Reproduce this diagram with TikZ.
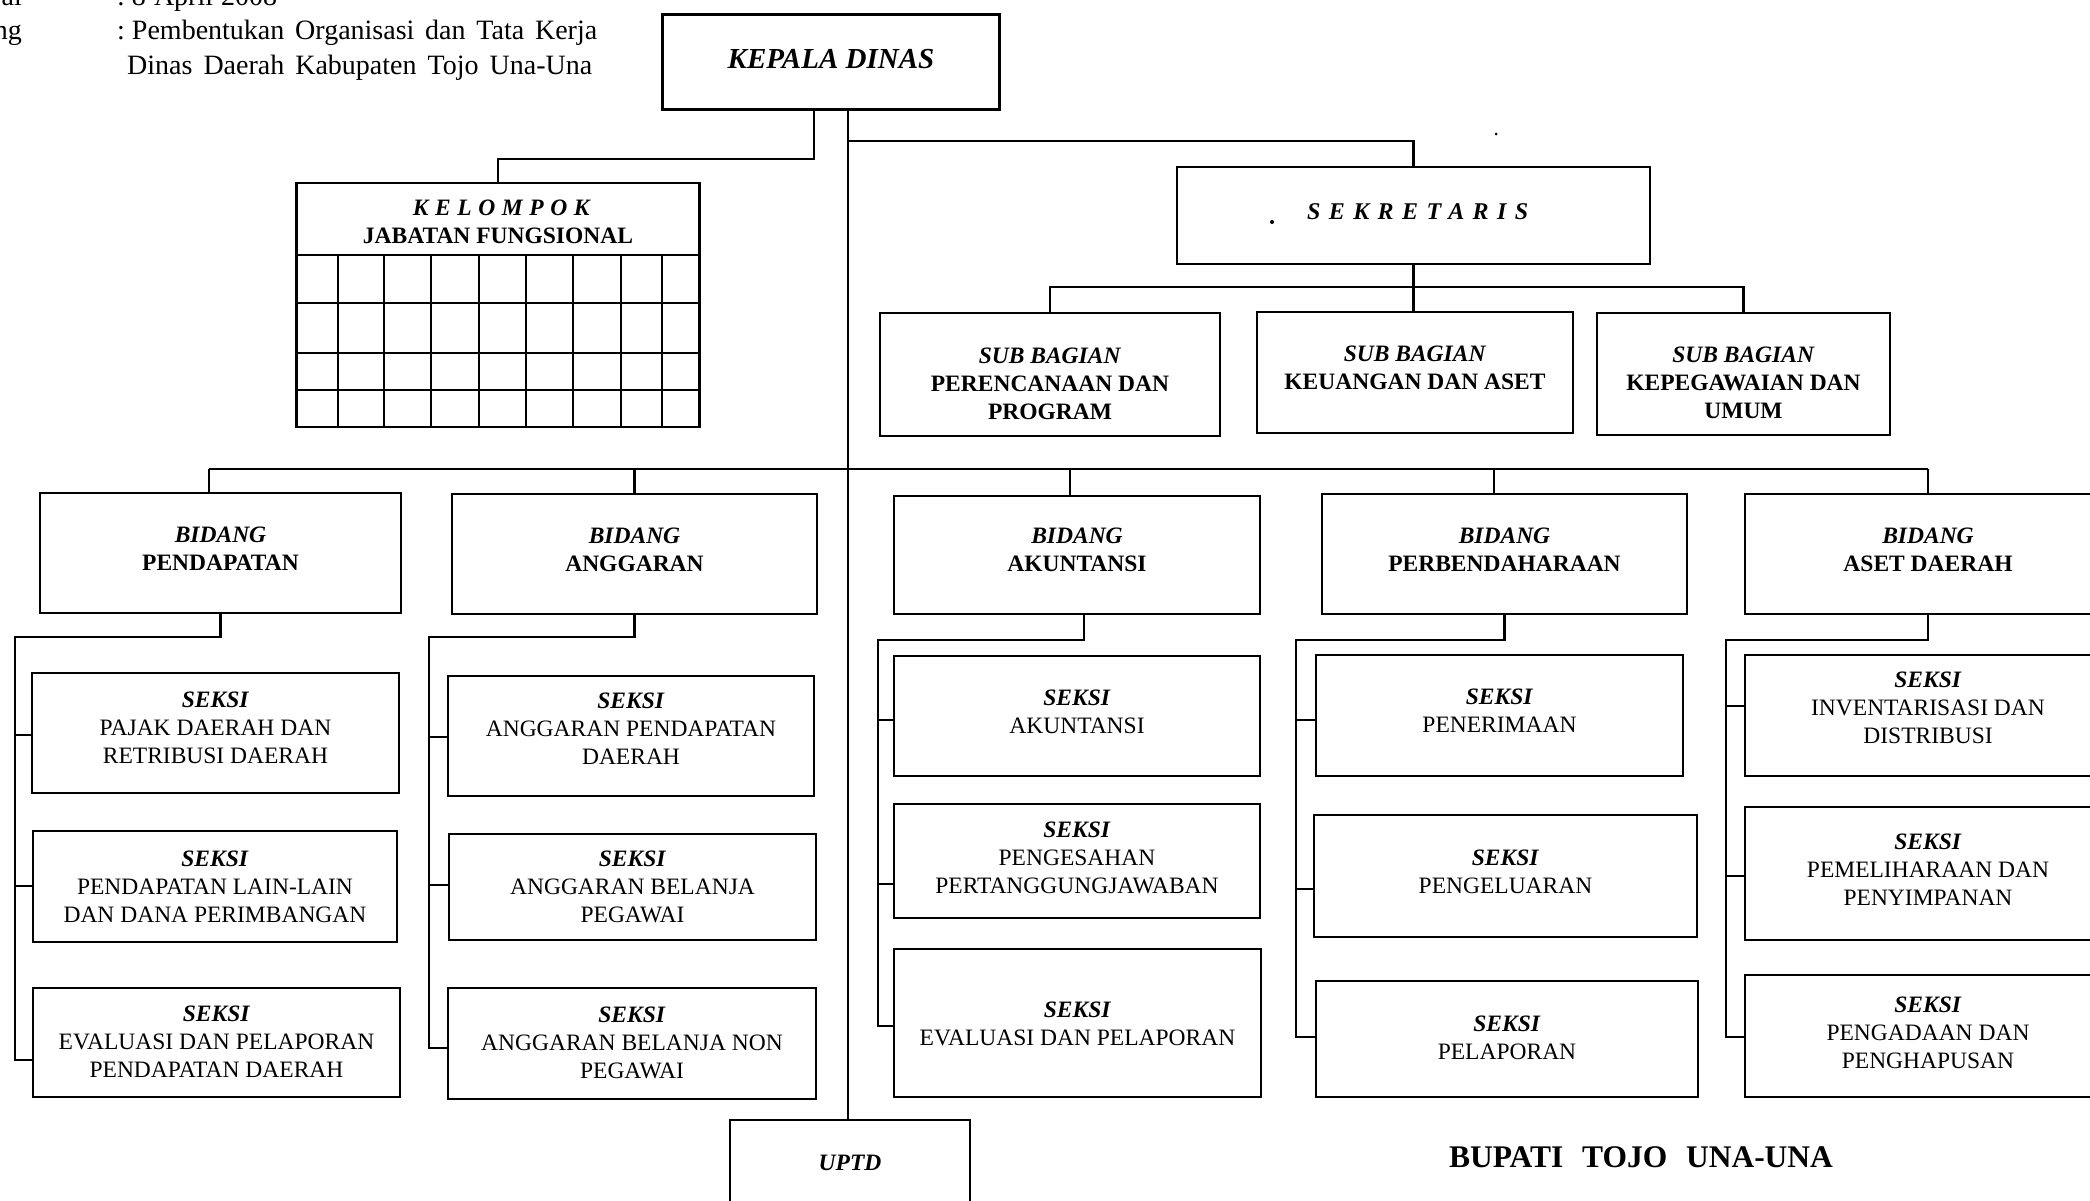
\documentclass[tikz,border=0pt]{standalone}
\usepackage{fontspec}
\setmainfont{Liberation Serif}
\newfontfamily\lsA[LetterSpace=28]{Liberation Serif}
\newfontfamily\lsB[LetterSpace=35]{Liberation Serif}
\usetikzlibrary{calc}
\newcommand{\hdr}[1]{\textbf{\textit{#1}}}
% box with its label: name, centre, width, height, text offset (down), text
\newcommand{\bx}[6]{%
  \node[box,minimum width=#3pt,minimum height=#4pt] (#1) at (#2) {};
  \node[lbl] (#1t) at ([yshift={-(#5)*1pt}]#1.center) {#6};}
\begin{document}
\begin{tikzpicture}[x=1pt,y=-1pt,
  box/.style={draw,line width=2.6pt,inner sep=0pt},
  lbl/.style={inner sep=0pt,align=center,font=\fontsize{23.5}{28}\selectfont},
  conn/.style={line width=2.2pt},
  gridl/.style={line width=2pt},
  txt/.style={inner sep=0pt,font=\fontsize{28}{34}\selectfont}]
\useasboundingbox (0,0) rectangle (2090,1200);
\clip (0,0) rectangle (2090,1200);
\fill[white] (0,0) rectangle (2090,1200);

% header text
\node[txt,anchor=base east] (tgl) at (22,5) {al};
\node[txt,anchor=base west] (tglv) at (117,5) {\hbox to 160pt{:\kern7pt 8 April 2008}};
\node[txt,anchor=base east] (ttg) at (22,39) {ng};
\node[txt,anchor=base west] (ttgv) at (117,39) {\hbox to 480pt{:\kern7pt Pembentukan Organisasi dan Tata Kerja}};
\node[txt,anchor=base west] (ttgw) at (127,74) {\hbox to 465pt{Dinas Daerah Kabupaten Tojo Una-Una}};

% Kepala Dinas
\bx{kd}{831,62}{337}{95}{-3}{\fontsize{29}{34}\selectfont\hdr{KEPALA DINAS}}

% Kelompok jabatan fungsional
\node[box,minimum width=402.6pt,minimum height=244pt] (kel) at (498,305) {};
\node[lbl] (kelh) at (498,222) {{\lsA\bfseries\itshape KELOMPOK\kern-0.28em}\\\textbf{JABATAN FUNGSIONAL}};
\foreach \yy in {255,303,353,390} \draw[gridl] (296.7,\yy) -- (699.3,\yy);
\foreach \xx in {338.3,384,430.7,479,526,572.7,620.7,661.7} \draw[gridl] (\xx,255) -- (\xx,427);

% Sekretaris
\bx{sek}{1413.5,215.5}{473}{97}{-4}{\fontsize{24}{28}\selectfont{\lsB\bfseries\itshape SEKRETARIS\kern-0.35em}}
\fill (1272,222) circle (2pt);
\fill (1496,134) circle (1.5pt);

% Sub bagian
\bx{sb1}{1050,374.5}{340}{123}{9}{\hdr{SUB BAGIAN}\\\textbf{PERENCANAAN DAN}\\\textbf{PROGRAM}}
\bx{sb2}{1415,372.5}{316}{121}{9}{\hdr{SUB BAGIAN}\\\textbf{KEUANGAN DAN ASET}\\\mbox{}}
\bx{sb3}{1743.5,374}{293}{122}{9}{\hdr{SUB BAGIAN}\\\textbf{KEPEGAWAIAN DAN}\\\textbf{UMUM}}

% Bidang
\bx{b1}{220.5,553}{361}{120}{-4}{\hdr{BIDANG}\\\textbf{PENDAPATAN}}
\bx{b2}{634.5,554}{365}{120}{-4}{\hdr{BIDANG}\\\textbf{ANGGARAN}}
\bx{b3}{1077,555}{366}{118}{-5}{\hdr{BIDANG}\\\textbf{AKUNTANSI}}
\bx{b4}{1504.5,554}{365}{120}{-4}{\hdr{BIDANG}\\\textbf{PERBENDAHARAAN}}
\bx{b5}{1928,554}{366}{120}{-4}{\hdr{BIDANG}\\\textbf{ASET DAERAH}}

% Seksi
\bx{s11}{215.5,733}{367}{120}{-5}{\hdr{SEKSI}\\PAJAK DAERAH DAN\\RETRIBUSI DAERAH}
\bx{s12}{215,886.5}{364}{111}{0}{\hdr{SEKSI}\\PENDAPATAN LAIN-LAIN\\DAN DANA PERIMBANGAN}
\bx{s13}{216.5,1042.5}{367}{109}{-1}{\hdr{SEKSI}\\EVALUASI DAN PELAPORAN\\PENDAPATAN DAERAH}
\bx{s21}{631,736}{366}{120}{-7}{\hdr{SEKSI}\\ANGGARAN PENDAPATAN\\DAERAH}
\bx{s22}{632.5,887}{367}{106}{0}{\hdr{SEKSI}\\ANGGARAN BELANJA\\PEGAWAI}
\bx{s23}{632,1043.5}{368}{111}{-1}{\hdr{SEKSI}\\ANGGARAN BELANJA NON\\PEGAWAI}
\bx{s31}{1077,716}{366}{120}{-4}{\hdr{SEKSI}\\AKUNTANSI}
\bx{s32}{1077,861}{366}{114}{-3}{\hdr{SEKSI}\\PENGESAHAN\\PERTANGGUNGJAWABAN}
\bx{s33}{1077.5,1023}{367}{148}{1}{\hdr{SEKSI}\\EVALUASI DAN PELAPORAN}
\bx{s41}{1499.5,715.5}{367}{121}{-5}{\hdr{SEKSI}\\PENERIMAAN}
\bx{s42}{1505.5,876}{383}{122}{-4}{\hdr{SEKSI}\\PENGELUARAN}
\bx{s43}{1507,1039}{382}{116}{-1}{\hdr{SEKSI}\\PELAPORAN}
\bx{s51}{1928,715.5}{366}{121}{-8}{\hdr{SEKSI}\\INVENTARISASI DAN\\DISTRIBUSI}
\bx{s52}{1928,873.5}{366}{133}{-4}{\hdr{SEKSI}\\PEMELIHARAAN DAN\\PENYIMPANAN}
\bx{s53}{1928,1036}{366}{122}{-3}{\hdr{SEKSI}\\PENGADAAN DAN\\PENGHAPUSAN}

% UPTD and signature
\bx{uptd}{850,1163}{240}{86}{0}{\hdr{UPTD}}
\node[inner sep=0pt,font=\fontsize{31.5}{36}\selectfont\bfseries] (bup) at (1641,1157) {\hbox to 384pt{BUPATI TOJO UNA-UNA}};

% connectors from Kepala Dinas
\coordinate (jk) at (814,159);
\coordinate (tr) at (848,140.7);
\draw[conn] (jk |- kd.south) -- (jk) -- (jk -| kel.north) -- (kel.north);
\draw[conn] (tr |- kd.south) -- (tr |- uptd.north);
\draw[conn] (tr) -- (tr -| sek.north) -- (sek.north);

% Sekretaris to sub bagian
\coordinate (sbus) at (1413.5,286.7);
\draw[conn] (sek.south) -- (sek.south |- sb2.north);
\draw[conn] (sb1.north) |- (sbus) -| (sb3.north);

% bus to bidang
\coordinate (d1) at (209,469.3);
\coordinate (d3) at (1070,469.3);
\coordinate (d4) at (1494,469.3);
\draw[conn] (d1) -- (b5.north |- d1);
\draw[conn] (d1) -- (d1 |- b1.north);
\draw[conn] (b2.north |- d1) -- (b2.north);
\draw[conn] (d3) -- (d3 |- b3.north);
\draw[conn] (d4) -- (d4 |- b4.north);
\draw[conn] (b5.north |- d1) -- (b5.north);

% column 1
\coordinate (r1) at (15,637);
\coordinate (t11) at (15,735);
\coordinate (t12) at (15,886);
\coordinate (t13) at (15,1060);
\draw[conn] (b1.south) -- (b1.south |- r1) -- (r1) -- (t13) -- (t13 -| s13.west);
\draw[conn] (t11) -- (t11 -| s11.west);
\draw[conn] (t12) -- (t12 -| s12.west);

% column 2
\coordinate (r2) at (429,637);
\coordinate (t21) at (429,737);
\coordinate (t22) at (429,885);
\coordinate (t23) at (429,1048);
\draw[conn] (b2.south) -- (b2.south |- r2) -- (r2) -- (t23) -- (t23 -| s23.west);
\draw[conn] (t21) -- (t21 -| s21.west);
\draw[conn] (t22) -- (t22 -| s22.west);

% column 3
\coordinate (u3) at (1083.6,640);
\coordinate (r3) at (878,640);
\coordinate (t31) at (878,720);
\coordinate (t32) at (878,884);
\coordinate (t33) at (878,1026);
\draw[conn] (u3 |- b3.south) -- (u3) -- (r3) -- (t33) -- (t33 -| s33.west);
\draw[conn] (t31) -- (t31 -| s31.west);
\draw[conn] (t32) -- (t32 -| s32.west);

% column 4
\coordinate (r4) at (1295.6,640);
\coordinate (t41) at (1295.6,720);
\coordinate (t42) at (1295.6,889);
\coordinate (t43) at (1295.6,1037);
\draw[conn] (b4.south) -- (b4.south |- r4) -- (r4) -- (t43) -- (t43 -| s43.west);
\draw[conn] (t41) -- (t41 -| s41.west);
\draw[conn] (t42) -- (t42 -| s42.west);

% column 5
\coordinate (r5) at (1726,640);
\coordinate (t51) at (1726,706);
\coordinate (t52) at (1726,876);
\coordinate (t53) at (1726,1037);
\draw[conn] (b5.south) -- (b5.south |- r5) -- (r5) -- (t53) -- (t53 -| s53.west);
\draw[conn] (t51) -- (t51 -| s51.west);
\draw[conn] (t52) -- (t52 -| s52.west);
\end{tikzpicture}
\end{document}
